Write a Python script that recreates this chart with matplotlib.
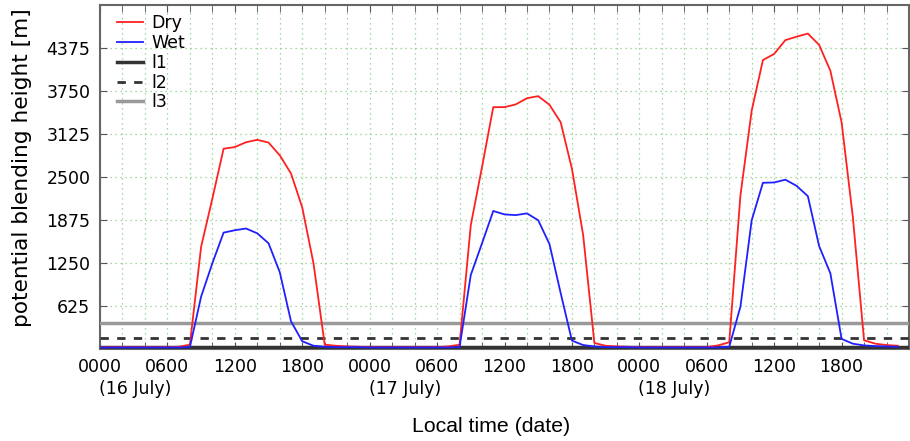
import matplotlib
matplotlib.use("Agg")
import matplotlib.pyplot as plt
import matplotlib.transforms as mtransforms

# hourly values, 16-18 July (local time 00:00 .. 23:00 each day)
dry = [
    20, 20, 20, 20, 20, 20, 20, 25, 55, 1480, 2180, 2905, 2930, 3000, 3035, 2995, 2810, 2545, 2050, 1240, 55, 40, 30, 25,
    20, 20, 20, 20, 20, 20, 20, 30, 55, 1795, 2640, 3510, 3510, 3550, 3640, 3670, 3545, 3290, 2615, 1650, 80, 40, 30, 25,
    20, 20, 20, 20, 20, 20, 20, 45, 90, 2230, 3460, 4195, 4285, 4485, 4535, 4580, 4415, 4040, 3290, 1915, 120, 70, 50, 40,
]
wet = [
    15, 15, 15, 15, 15, 15, 15, 15, 20, 755, 1240, 1685, 1720, 1745, 1675, 1530, 1110, 395, 105, 40, 25, 20, 20, 20,
    15, 15, 15, 15, 15, 15, 15, 15, 20, 1070, 1530, 2000, 1950, 1940, 1965, 1865, 1520, 805, 115, 50, 30, 20, 20, 20,
    15, 15, 15, 15, 15, 15, 15, 15, 25, 610, 1865, 2410, 2415, 2455, 2365, 2215, 1490, 1095, 140, 70, 45, 35, 30, 25,
]
hours = list(range(len(dry)))

l1, l2, l3 = 20, 150, 375

major_ticks = list(range(0, 72, 6))
major_labels = ["0000", "0600", "1200", "1800"] * 3
date_ticks = [0, 24, 48]
date_labels = ["(16 July)", "(17 July)", "(18 July)"]
yticks = [625, 1250, 1875, 2500, 3125, 3750, 4375]

fig = plt.figure(figsize=(9.1, 4.41), dpi=100)
ax_h = 348.5 - 4.7
ax = fig.add_axes([100/910, 1 - 348.5/441, 809/910, ax_h/441])

ax.plot(hours, dry, color="#ff2020", lw=1.3, label="Dry", zorder=4)
ax.plot(hours, wet, color="#2020ff", lw=1.3, label="Wet", zorder=4)
ax.axhline(l1, color="#333333", lw=2.5, label="l1", zorder=3)
ax.axhline(l2, color="#333333", lw=2.0, ls=(0, (3, 3)), label="l2", zorder=3)
ax.axhline(l3, color="#999999", lw=2.5, label="l3", zorder=3)

ax.set_xlim(0, 72)
ax.set_ylim(0, 5000)
ax.set_xticks(major_ticks)
ax.set_xticklabels(major_labels, fontsize=12.5)
ax.set_xticks(list(range(0, 72, 2)), minor=True)
ax.set_yticks(yticks)
ax.set_yticklabels([str(v) for v in yticks], fontsize=12.5)

trans = mtransforms.blended_transform_factory(ax.transData, fig.transFigure)
for xt, lab in zip(date_ticks, date_labels):
    ax.text(xt - 0.1, 1 - 389/441, lab, transform=trans, ha="left", va="center",
            fontsize=12.5, clip_on=False)

ax.tick_params(which="both", direction="in", top=True, right=True, color="#555555")
ax.tick_params(which="major", length=5, pad=7)
ax.tick_params(which="minor", length=5)

ax.grid(True, which="both", axis="x", color="#88cc88", ls=(0, (1, 3)), lw=0.9)
ax.grid(True, which="major", axis="y", color="#88cc88", ls=(0, (1, 3)), lw=0.9)
ax.set_axisbelow(True)

for s in ax.spines.values():
    s.set_color("#666666")
    s.set_linewidth(1.5)

ax.set_ylabel("potential blending height [m]", fontsize=15.6)
ax.yaxis.set_label_coords((32 - 100) / 809, (348.5 - 167.5) / ax_h)
ax.set_xlabel("Local time (date)", fontsize=15.3, family="Liberation Sans")
ax.xaxis.set_label_coords((491 - 100) / 809, -(417 - 348.5) / ax_h)

leg = ax.legend(loc="upper left", frameon=False, fontsize=12.5, handlelength=1.5,
                handletextpad=0.5, labelspacing=0.1, borderaxespad=0.0,
                bbox_to_anchor=(0.012, 0.992))

fig.savefig("out.png", dpi=100)
